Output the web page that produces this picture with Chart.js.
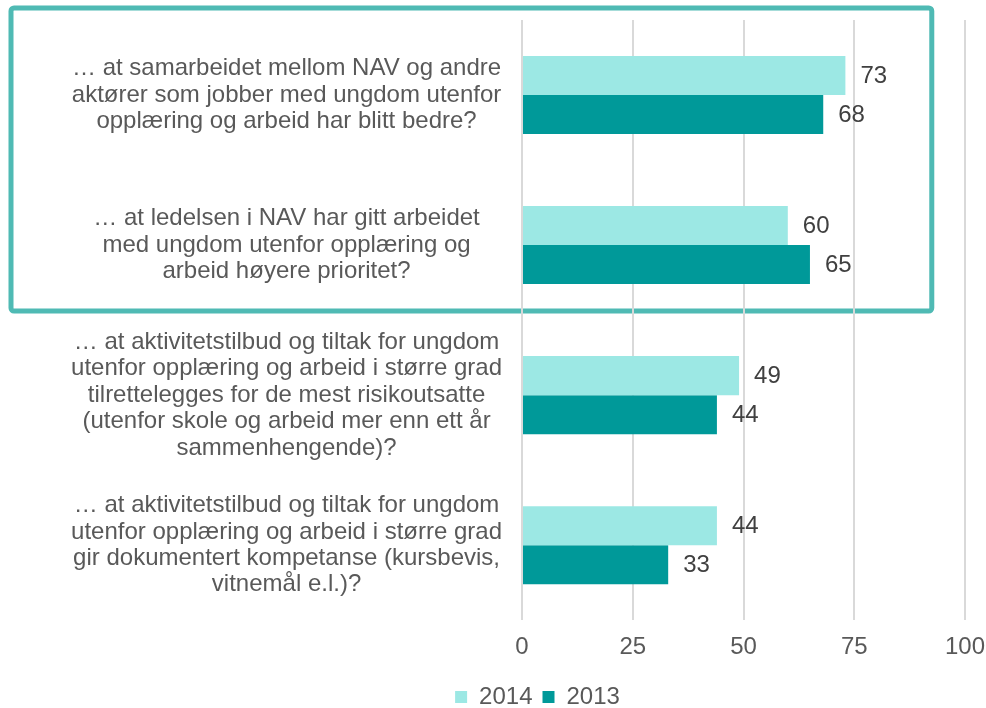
<!DOCTYPE html>
<html>
<head>
<meta charset="utf-8">
<script src="https://cdn.jsdelivr.net/npm/chart.js@4"></script>
<style>
  html, body { margin: 0; padding: 0; background: #fff; }
  #wrap { width: 986px; height: 708px; }
</style>
</head>
<body>
<div id="wrap"><canvas id="chart" width="986" height="708"></canvas></div>
<script>
// Survey statements (y categories), each split into display lines
const categories = [
  ['… at samarbeidet mellom NAV og andre', 'aktører som jobber med ungdom utenfor', 'opplæring og arbeid har blitt bedre?'],
  ['… at ledelsen i NAV har gitt arbeidet', 'med ungdom utenfor opplæring og', 'arbeid høyere prioritet?'],
  ['… at aktivitetstilbud og tiltak for ungdom', 'utenfor opplæring og arbeid i større grad', 'tilrettelegges for de mest risikoutsatte', '(utenfor skole og arbeid mer enn ett år', 'sammenhengende)?'],
  ['… at aktivitetstilbud og tiltak for ungdom', 'utenfor opplæring og arbeid i større grad', 'gir dokumentert kompetanse (kursbevis,', 'vitnemål e.l.)?']
];
const values2014 = [73, 60, 49, 44];
const values2013 = [68, 65, 44, 33];
const xTicks = [0, 25, 50, 75, 100];

const FONT = '"Liberation Sans", Arial, sans-serif';
const LIGHT = '#9ce8e4';
const DARK = '#009999';

// value labels at the end of each bar
const barLabels = {
  id: 'barLabels',
  afterDatasetsDraw(chart) {
    const ctx = chart.ctx;
    ctx.save();
    ctx.font = '24px ' + FONT;
    ctx.fillStyle = '#404040';
    ctx.textAlign = 'left';
    ctx.textBaseline = 'middle';
    chart.data.datasets.forEach((ds, i) => {
      chart.getDatasetMeta(i).data.forEach((bar, j) => {
        ctx.fillText(String(ds.data[j]), bar.x + 15, bar.y + 1);
      });
    });
    ctx.restore();
  }
};

// highlight frame around the first two statements (drawn under the grid)
const highlightBox = {
  id: 'highlightBox',
  beforeDraw(chart) {
    const x = chart.scales.x, y = chart.scales.y;
    const left = 11, top = 8;
    const right = x.getPixelForValue(92.5);
    const bottom = y.getPixelForValue(1.44);
    const ctx = chart.ctx;
    ctx.save();
    ctx.strokeStyle = '#4fbab4';
    ctx.lineWidth = 5;
    ctx.lineJoin = 'round';
    ctx.beginPath();
    ctx.roundRect(left, top, right - left, bottom - top, 3);
    ctx.stroke();
    ctx.restore();
  }
};

// legend sits under the plot, not under the whole canvas
const shiftLegend = {
  id: 'shiftLegend',
  afterLayout(chart) {
    chart.legend.left += 55;
    chart.legend.right += 55;
  }
};

new Chart(document.getElementById('chart'), {
  type: 'bar',
  data: {
    labels: categories,
    datasets: [
      { label: '2014', data: values2014, backgroundColor: LIGHT },
      { label: '2013', data: values2013, backgroundColor: DARK }
    ]
  },
  options: {
    indexAxis: 'y',
    responsive: false,
    animation: false,
    devicePixelRatio: 1,
    datasets: { bar: { barPercentage: 1, categoryPercentage: 0.52 } },
    layout: { padding: { top: 20, left: 0, right: 21, bottom: -11 } },
    scales: {
      x: {
        min: 0,
        max: 100,
        afterBuildTicks: (axis) => { axis.ticks = xTicks.map(v => ({ value: v })); },
        afterFit: (axis) => {
          axis.paddingLeft = 0;
          axis.paddingRight = 0;
        },
        grid: { color: '#d9d9d9', lineWidth: 2, drawTicks: false },
        border: { display: false },
        ticks: { color: '#595959', padding: 13, font: { family: FONT, size: 24, lineHeight: 1.2 } }
      },
      y: {
        afterFit: (axis) => {
          axis.width = 522;
          axis.paddingTop = 0;
          axis.paddingBottom = 0;
        },
        grid: { display: false, drawTicks: false },
        border: { display: false },
        ticks: {
          color: '#595959',
          padding: 20,
          crossAlign: 'center',
          autoSkip: false,
          font: { family: FONT, size: 24, lineHeight: 1.1 }
        }
      }
    },
    plugins: {
      legend: {
        position: 'bottom',
        labels: {
          boxWidth: 12,
          boxHeight: 12,
          padding: 10,
          color: '#595959',
          font: { family: FONT, size: 24 }
        }
      },
      tooltip: { enabled: false }
    }
  },
  plugins: [highlightBox, shiftLegend, barLabels]
});
</script>
</body>
</html>
